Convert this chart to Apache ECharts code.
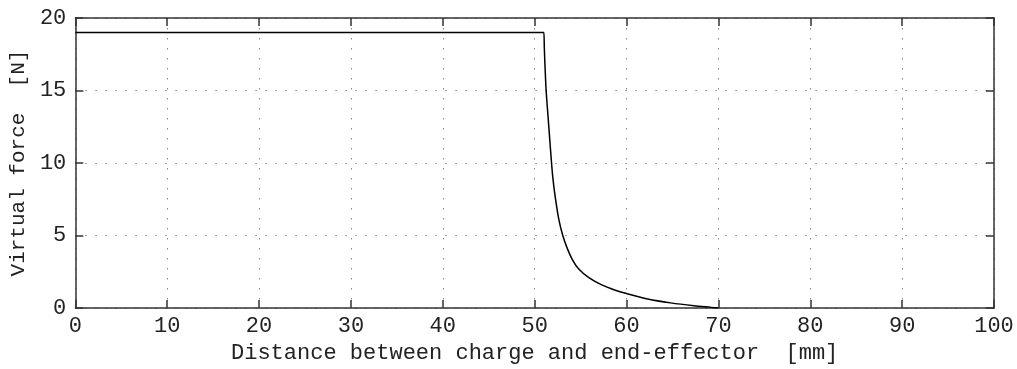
<!DOCTYPE html>
<html>
<head>
<meta charset="utf-8">
<script src="https://cdn.jsdelivr.net/npm/echarts@6/dist/echarts.min.js"></script>
<style>
html,body{margin:0;padding:0;background:#fff;}
#c{width:1017px;height:369px;}
</style>
</head>
<body>
<div id="c"></div>
<script>
var distance = [0, 50.9, 51, 51.05, 51.12, 51.25, 51.47, 51.79, 51.97, 52.23, 52.62, 53.06, 53.56, 54.1, 54.8, 55.9, 57.3, 58.7, 60.0, 62.3, 64.8, 67.35, 69.2, 70];
var force    = [19, 19, 19, 18.0, 16.8, 15, 13.1, 10.4, 9.05, 7.7, 6.15, 5.0, 4.1, 3.35, 2.7, 2.1, 1.6, 1.25, 1.0, 0.63, 0.36, 0.16, 0.05, 0];
var xTicks = {min: 0, max: 100, interval: 10};
var yTicks = {min: 0, max: 20, interval: 5};
var xName = 'Distance between charge and end-effector  [mm]';
var yName = 'Virtual force  [N]';

var FONT = 'Liberation Mono';
var chart = echarts.init(document.getElementById('c'));
var axisLine = {show: true, onZero: false, lineStyle: {color: '#333', width: 1.5}};
var tick = {show: true, inside: true, length: 8, lineStyle: {color: '#333', width: 1.5}};
var gridLine = {show: true, lineStyle: {color: '#888', type: [1.5, 8.5], width: 1}};
chart.setOption({
  animation: false,
  backgroundColor: '#fff',
  grid: {left: 73, right: 23, top: 18, bottom: 55, containLabel: false},
  xAxis: [{
    type: 'value', min: xTicks.min, max: xTicks.max, interval: xTicks.interval,
    position: 'bottom',
    name: xName, nameLocation: 'middle', nameGap: 31,
    nameTextStyle: {fontFamily: FONT, fontSize: 22, color: '#222'},
    axisLine: axisLine,
    axisTick: tick,
    axisLabel: {fontFamily: FONT, fontSize: 22, color: '#222', margin: 7},
    splitLine: gridLine
  }, {
    type: 'value', min: xTicks.min, max: xTicks.max, interval: xTicks.interval,
    position: 'top',
    axisLine: axisLine,
    axisTick: tick,
    axisLabel: {show: false},
    splitLine: {show: false}
  }],
  yAxis: [{
    type: 'value', min: yTicks.min, max: yTicks.max, interval: yTicks.interval,
    position: 'left',
    name: yName, nameLocation: 'middle', nameGap: 40, nameRotate: 90,
    nameTextStyle: {fontFamily: FONT, fontSize: 21, color: '#222'},
    axisLine: axisLine,
    axisTick: tick,
    axisLabel: {fontFamily: FONT, fontSize: 22, color: '#222', margin: 9},
    splitLine: gridLine
  }, {
    type: 'value', min: yTicks.min, max: yTicks.max, interval: yTicks.interval,
    position: 'right',
    axisLine: axisLine,
    axisTick: tick,
    axisLabel: {show: false},
    splitLine: {show: false}
  }],
  series: [{
    type: 'line',
    xAxisIndex: 0, yAxisIndex: 0,
    data: distance.map(function (d, i) { return [d, force[i]]; }),
    showSymbol: false,
    smooth: 0.3,
    lineStyle: {color: '#000', width: 1.5},
    z: 3
  }]
});
</script>
</body>
</html>
